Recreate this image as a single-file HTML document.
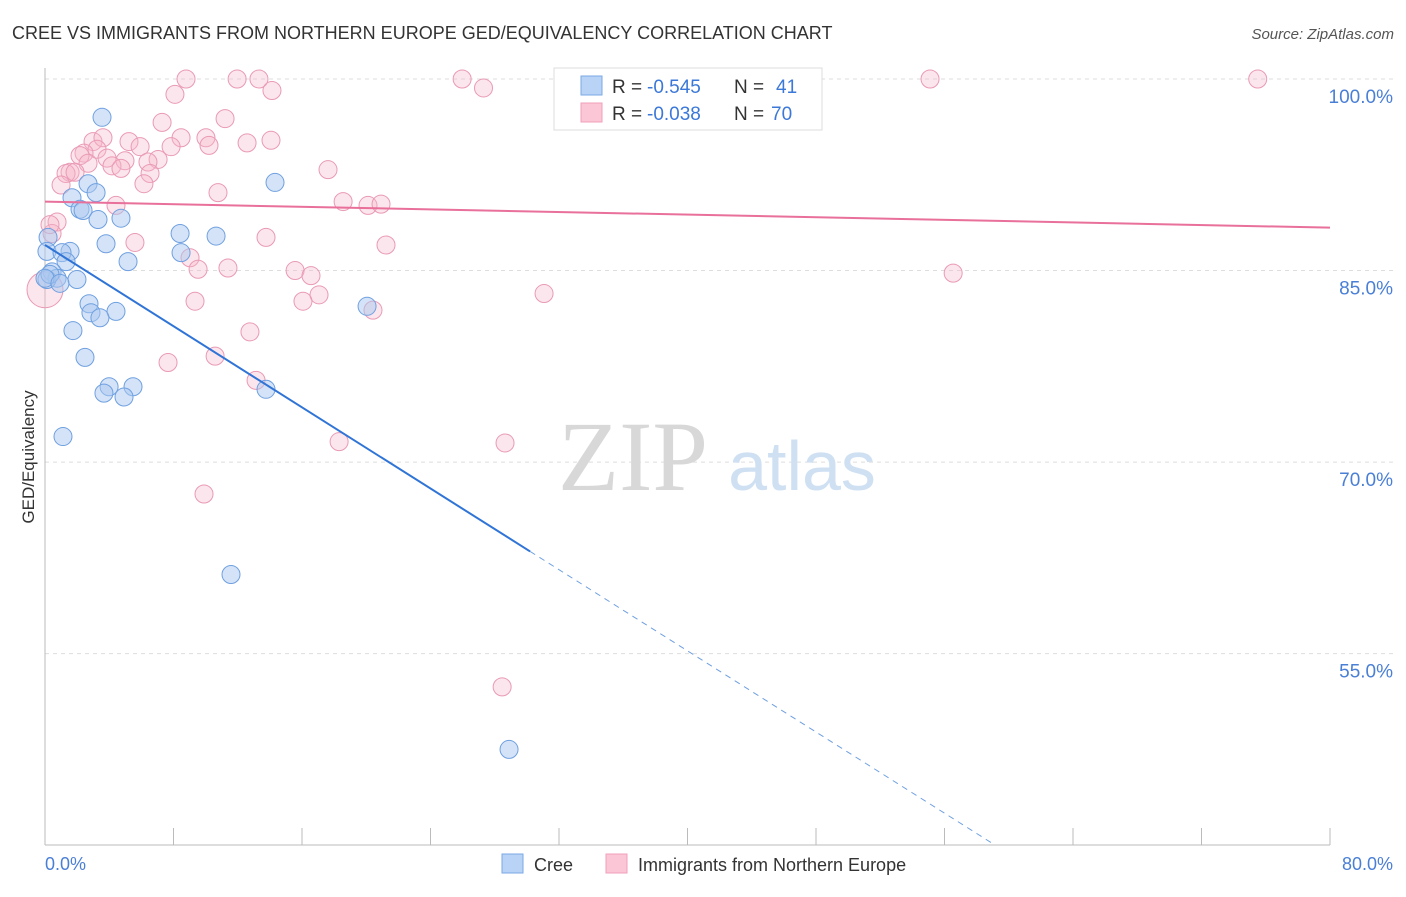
<!DOCTYPE html>
<html><head><meta charset="utf-8"><style>
body{margin:0;background:#fff;font-family:"Liberation Sans",sans-serif}
svg text{font-family:"Liberation Sans",sans-serif}
</style></head><body>
<svg id="chart" width="1406" height="892" xmlns="http://www.w3.org/2000/svg">
<text x="12" y="39" font-size="18" fill="#333">CREE VS IMMIGRANTS FROM NORTHERN EUROPE GED/EQUIVALENCY CORRELATION CHART</text>
<text x="1394" y="39" font-size="15" fill="#555" font-style="italic" text-anchor="end">Source: ZipAtlas.com</text>
<g id="grid"></g>
<g><text x="633" y="490" font-size="100" fill="#d8d8d8" text-anchor="middle" style="font-family:'Liberation Serif',serif">ZIP</text><text x="802" y="490" font-size="70" fill="#cfe0f3" text-anchor="middle">atlas</text></g>
<line x1="45" y1="68" x2="45" y2="845" stroke="#bbb"/>
<line x1="45" y1="845" x2="1330" y2="845" stroke="#bbb"/>
<g id="xticks"></g>
<g id="ylabels"></g>
<text x="45" y="870" font-size="18" fill="#4a7fd6">0.0%</text>
<text x="1393" y="870" font-size="18" fill="#4a7fd6" text-anchor="end">80.0%</text>
<text transform="translate(34,457) rotate(-90)" font-size="17" fill="#333" text-anchor="middle">GED/Equivalency</text>
<g id="pts"></g>
<g id="trends"></g>
<g>
<rect x="554" y="68" width="268" height="62" fill="#fff" stroke="#ddd"/>
<rect x="581" y="76" width="21" height="19" fill="#b8d3f6" stroke="#7aaae6"/>
<text x="612" y="93" font-size="19" fill="#333">R =</text>
<text x="647" y="93" font-size="19" fill="#3b78d8">-0.545</text>
<text x="734" y="93" font-size="19" fill="#333">N =</text>
<text x="776" y="93" font-size="19" fill="#3b78d8">41</text>
<rect x="581" y="103" width="21" height="19" fill="#fbc6d6" stroke="#f0a0bb"/>
<text x="612" y="120" font-size="19" fill="#333">R =</text>
<text x="647" y="120" font-size="19" fill="#3b78d8">-0.038</text>
<text x="734" y="120" font-size="19" fill="#333">N =</text>
<text x="771" y="120" font-size="19" fill="#3b78d8">70</text>
</g>
<g>
<rect x="502" y="854" width="21" height="19" fill="#b8d3f6" stroke="#7aaae6"/>
<text x="534" y="871" font-size="18" fill="#333">Cree</text>
<rect x="606" y="854" width="21" height="19" fill="#fbc6d6" stroke="#f0a0bb"/>
<text x="638" y="871" font-size="18" fill="#333">Immigrants from Northern Europe</text>
</g>
</svg>
<script>
const yTicks=[100,85,70,55];
const yTickLabels=["100.0%","85.0%","70.0%","55.0%"];
const xTicks=[0,8,16,24,32,40,48,56,64,72,80];
const creeX=[3.55,2.68,3.18,1.68,2.18,2.37,3.30,4.73,0.19,3.80,8.41,10.65,14.32,1.56,0.12,1.06,1.31,5.17,8.47,0.44,0.75,1.99,0.12,2.74,4.42,2.86,3.42,1.74,20.05,2.49,3.99,3.67,5.48,4.92,13.76,1.12,11.58,28.89,0.31,0,0.93];
const creeY=[97.0,91.8,91.1,90.7,89.8,89.7,89.0,89.1,87.6,87.1,87.9,87.7,91.9,86.5,86.5,86.4,85.7,85.7,86.4,84.9,84.4,84.3,84.3,82.4,81.8,81.7,81.3,80.3,82.2,78.2,75.9,75.4,75.9,75.1,75.7,72.0,61.2,47.5,84.7,84.4,84.0];
const immX=[8.78,11.96,13.32,25.97,55.1,75.5,32.9,14.13,27.3,8.09,11.21,7.29,8.47,10.02,14.07,5.23,12.58,10.21,2.99,3.61,3.24,5.92,7.85,2.43,2.18,3.86,7.04,4.98,6.41,2.68,4.17,4.73,1.56,1.31,1.87,6.54,1.0,6.16,17.62,10.77,18.56,20.11,20.92,4.42,0.75,0.44,5.6,13.76,21.23,9.03,9.53,11.39,15.57,16.56,17.06,16.06,20.42,31.07,56.54,9.34,12.76,7.66,10.59,13.14,18.31,28.64,9.9,28.46,0,0.31];
const immY=[100,100,100,100,100,100,100,99.1,99.3,98.8,96.9,96.6,95.4,95.4,95.2,95.1,95.0,94.8,95.1,95.4,94.5,94.7,94.7,94.2,94.0,93.8,93.7,93.6,93.5,93.4,93.2,93.0,92.7,92.6,92.7,92.6,91.7,91.8,92.9,91.1,90.4,90.1,90.2,90.1,88.8,87.9,87.2,87.6,87.0,86.0,85.1,85.2,85.0,84.6,83.1,82.6,81.9,83.2,84.8,82.6,80.2,77.8,78.3,76.4,71.6,71.5,67.5,52.4,83.5,88.6];
const creeTrend=[87.0,-0.7945];   // intercept, slope
const immTrend=[90.4,-0.0255];
const creeSolidEnd=30.2, creeDashEnd=59.0;
const NS="http://www.w3.org/2000/svg";
const sx=v=>45+v*(1285/80);
const sy=v=>79+(100-v)*12.77;
function mk(tag,attrs,parent){const e=document.createElementNS(NS,tag);for(const k in attrs)e.setAttribute(k,attrs[k]);parent.appendChild(e);return e;}
const grid=document.getElementById('grid'),yl=document.getElementById('ylabels'),xt=document.getElementById('xticks');
yTicks.forEach((t,i)=>{
 const l=mk('line',{x1:45,x2:1394,y1:sy(t),y2:sy(t),stroke:'#ddd','stroke-dasharray':'4,4'},grid);
 
 
 const tx=mk('text',{x:1393,y:sy(t)+24,'font-size':19,fill:'#4a7fd6','text-anchor':'end'},yl);
 tx.textContent=yTickLabels[i];
 
 
});
xTicks.forEach(t=>{
 const l=mk('line',{x1:sx(t),x2:sx(t),y1:828,y2:845,stroke:'#bbb'},xt);
 
 
});
const pts=document.getElementById('pts');
immX.forEach((x,i)=>{
 const big=(x===0&&immY[i]===83.5);
 const c=mk('circle',{cx:sx(x),cy:sy(immY[i]),r:big?18:9,fill:'#f7b6ca','fill-opacity':0.35,stroke:'#e99ab4','stroke-width':1},pts);
 
 
});
creeX.forEach((x,i)=>{
 const c=mk('circle',{cx:sx(x),cy:sy(creeY[i]),r:9,fill:'#a9c8f0','fill-opacity':0.5,stroke:'#6fa0e0','stroke-width':1},pts);
 
 
});
const tr=document.getElementById('trends');
const f=(t,x)=>t[0]+t[1]*x;
let l1=mk('line',{x1:sx(0),y1:sy(f(creeTrend,0)),x2:sx(creeSolidEnd),y2:sy(f(creeTrend,creeSolidEnd)),stroke:'#2f74d6','stroke-width':2},tr);


let l2=mk('line',{x1:sx(creeSolidEnd),y1:sy(f(creeTrend,creeSolidEnd)),x2:sx(creeDashEnd),y2:sy(f(creeTrend,creeDashEnd)),stroke:'#6fa0e0','stroke-width':1,'stroke-dasharray':'6,5'},tr);


let l3=mk('line',{x1:sx(0),y1:sy(f(immTrend,0)),x2:sx(80),y2:sy(f(immTrend,80)),stroke:'#e8709a','stroke-width':2},tr);


</script>
</body></html>
